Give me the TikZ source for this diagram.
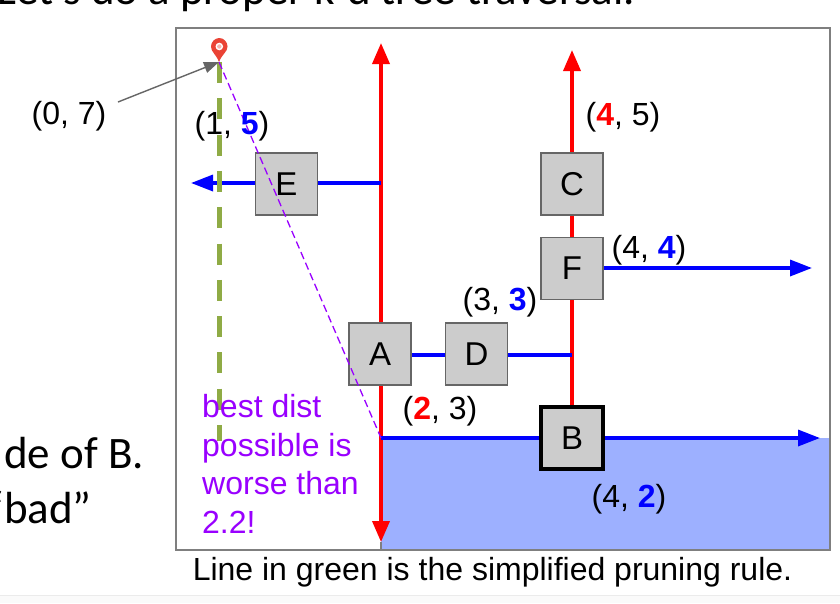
\documentclass[tikz,border=0pt]{standalone}
\usepackage{fontspec}
\setmainfont{Liberation Sans}
\newfontfamily\slidefont{Carlito}
\usetikzlibrary{arrows.meta}
\definecolor{boxgray}{HTML}{CCCCCC}
\definecolor{edgegray}{HTML}{666666}
\definecolor{framegray}{HTML}{7F7F7F}
\definecolor{regionblue}{HTML}{9DB0FF}
\definecolor{pruneviolet}{HTML}{9900FF}
\definecolor{prunegreen}{HTML}{8FAB45}
\definecolor{pinred}{HTML}{EA4335}
\tikzset{
  x=1pt,y=-1pt,
  treebox/.style={draw=edgegray,fill=boxgray,line width=1.4pt,minimum size=62pt,inner sep=0pt,font=\fontsize{33}{33}\selectfont},
  lab/.style={inner sep=0pt,font=\fontsize{32}{32}\selectfont,text=black},
  slide/.style={inner sep=0pt,font=\slidefont\fontsize{45}{45}\selectfont,anchor=base west},
  redline/.style={draw=red,line width=3.6pt,-{Triangle[length=21pt,width=17pt]}},
  blueline/.style={draw=blue,line width=3.4pt,-{Triangle[length=22pt,width=16pt]}},
  blueplain/.style={draw=blue,line width=3.4pt},
}
\newcommand{\rd}[1]{\textcolor{red}{\textbf{#1}}}
\newcommand{\bl}[1]{\textcolor{blue}{\textbf{#1}}}
\begin{document}
\begin{tikzpicture}
\useasboundingbox (0,0) rectangle (840,603);
\clip (0,0) rectangle (840,603);
\fill[white] (0,0) rectangle (840,603);
\fill[black!2] (0,595) rectangle (840,603);
\draw[black!8,line width=.8pt] (0,595) -- (840,595);
% slide text behind the frame
\node[slide] (top) at (-3,4) {Let's do a proper k-d tree traversal.};
\node[slide] (sideA) at (4,468) {de of B.};
\node[slide] (sideB) at (-15,523) {“bad”};
% frame
\fill[white] (176,28) rectangle (830,550);
\fill[regionblue] (381,438) rectangle (830,550);
\draw[framegray,line width=1.4pt] (176,28) rectangle (830,550);
% coordinates
\coordinate (goal) at (219,62);
\coordinate (gbot) at (219,441);
\coordinate (split) at (381,438);
\coordinate (rT) at (381,43);
\coordinate (rB) at (381,542);
\coordinate (frameB) at (381,550);
\coordinate (eL) at (191,183);
\coordinate (eR) at (381,183);
\coordinate (bL) at (381,438);
\coordinate (bR) at (820,438);
\coordinate (cT) at (572,50);
\coordinate (fS) at (572,268);
\coordinate (fR) at (812,268);
\coordinate (dL) at (381,355);
\coordinate (dR) at (572,355);
\coordinate (cB) at (572,438);
\coordinate (qs) at (118,102);
% split lines
\draw[framegray,line width=1.2pt] (rB) -- (frameB);
\draw[redline] (split) -- (rT);
\draw[redline] (split) -- (rB);
\draw[redline] (cB) -- (cT);
\draw[blueline] (eR) -- (eL);
\draw[blueline] (bL) -- (bR);
\draw[blueline] (fS) -- (fR);
\draw[blueplain] (dL) -- (dR);
% green pruning line
\draw[prunegreen,line width=5pt,dash pattern=on 21pt off 15.3pt] (goal) -- (gbot);
% boxes
\node[treebox,text depth=0pt,yshift=0pt] (E) at (286.5,184) {E};
\node[treebox] (C) at (572,184) {C};
\node[treebox] (F) at (572,268.5) {F};
\node[treebox] (A) at (380,354) {A};
\node[treebox] (D) at (476.5,354) {D};
\node[treebox,draw=black,line width=4.5pt,minimum size=62pt] (B) at (572,438) {B};
% dashed prune path
\draw[pruneviolet,line width=1.3pt,dash pattern=on 7.5pt off 4pt] (goal) -- (split);
% pin
\fill[pinred] (219,62) .. controls (216,54) and (211,52) .. (211,46.5) .. controls (211,42) and (214.8,38) .. (219.3,38) .. controls (223.8,38) and (227.5,42) .. (227.5,46.5) .. controls (227.5,52) and (222,54) .. (219,62) -- cycle;
\fill[white] (219.3,46.5) circle (3.8pt);
\fill[pinred!40] (219.3,46.5) circle (2.2pt);
% query arrow
\draw[edgegray,line width=1.4pt,-{Triangle[length=15pt,width=11pt]}] (qs) -- (goal);
% labels
\node[lab] (q) at (69,116) {(0, 7)};
\node[lab] (l1) at (232,126) {(1, \bl{5})};
\node[lab] (l2) at (623,117) {(\rd{4}, 5)};
\node[lab] (l3) at (649,250) {(4, \bl{4})};
\node[lab] (l4) at (500,302) {(3, \bl{3})};
\node[lab] (l5) at (440,411) {(\rd{2}, 3)};
\node[lab] (l6) at (629,499) {(4, \bl{2})};
\node[inner sep=0pt,anchor=north west,align=left,text=pruneviolet,font=\fontsize{32}{38.7}\selectfont] (p) at (202,394) {best dist\\possible is\\worse than\\2.2!};
\node[inner sep=0pt,font=\fontsize{32}{32}\selectfont] (cap) at (492.5,572.5) {Line in green is the simplified pruning rule.};
\end{tikzpicture}
\end{document}
